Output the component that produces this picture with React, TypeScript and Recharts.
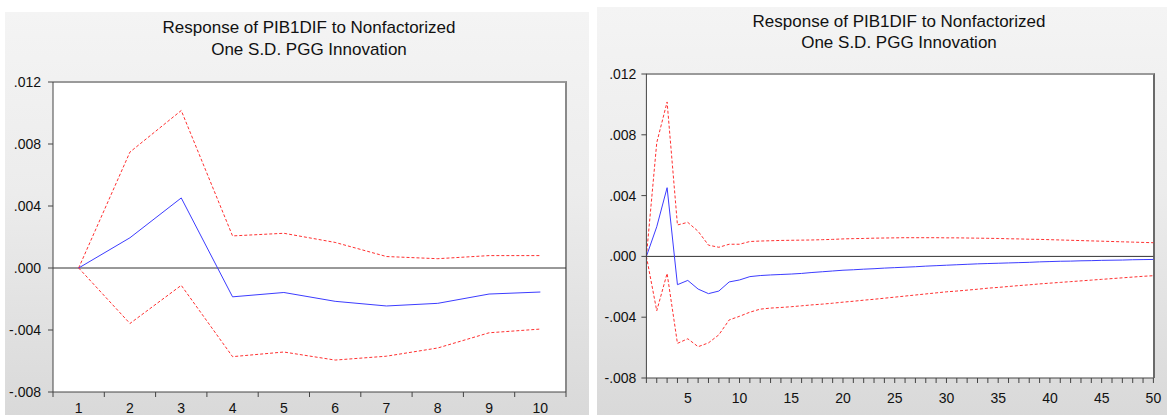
import { LineChart, Line, XAxis, YAxis, ReferenceLine } from 'recharts'

// periods of the impulse response
const PERIODS = Array.from({ length: 50 }, (_, i) => i + 1)

// response of PIB1DIF to a one S.D. PGG shock
const RESPONSE = [
  0, 0.00195, 0.00452, -0.00186, -0.00158, -0.00215, -0.00245, -0.00228, -0.00168, -0.00155,
  -0.00133, -0.00126, -0.00122, -0.00119, -0.00116, -0.00112, -0.00106, -0.00101, -0.00096, -0.00091,
  -0.00088, -0.00084, -0.00081, -0.00077, -0.00074, -0.00071, -0.00068, -0.00064, -0.00061, -0.00058,
  -0.00055, -0.00052, -0.00049, -0.00047, -0.00045, -0.00043, -0.00041, -0.00039, -0.00036, -0.00034,
  -0.00032, -0.00031, -0.00029, -0.00028, -0.00026, -0.00025, -0.00024, -0.00022, -0.00021, -0.0002,
]

// +2 S.E. band
const UPPER_BAND = [
  0, 0.00748, 0.01016, 0.00207, 0.00224, 0.00165, 0.00074, 0.0006, 0.0008, 0.0008,
  0.00098, 0.00101, 0.00103, 0.00105, 0.00106, 0.00107, 0.00108, 0.0011, 0.00112, 0.00115,
  0.00117, 0.00118, 0.0012, 0.00121, 0.00122, 0.00123, 0.00123, 0.00123, 0.00123, 0.00122,
  0.00122, 0.00121, 0.0012, 0.00119, 0.00118, 0.00116, 0.00115, 0.00113, 0.00112, 0.0011,
  0.00108, 0.00106, 0.00104, 0.00102, 0.001, 0.00098, 0.00096, 0.00094, 0.00092, 0.0009,
]

// -2 S.E. band
const LOWER_BAND = [
  0, -0.00358, -0.00112, -0.00572, -0.00542, -0.00594, -0.00569, -0.00516, -0.00418, -0.00394,
  -0.00367, -0.00347, -0.0034, -0.00336, -0.00331, -0.00325, -0.00319, -0.00314, -0.00308, -0.00301,
  -0.00295, -0.00288, -0.00282, -0.00275, -0.00268, -0.00261, -0.00254, -0.00247, -0.0024, -0.00233,
  -0.00228, -0.00222, -0.00216, -0.00209, -0.00204, -0.00198, -0.00192, -0.00187, -0.00181, -0.00176,
  -0.00171, -0.00166, -0.00161, -0.00156, -0.00151, -0.00146, -0.00141, -0.00136, -0.00131, -0.00127,
]

const Y_TICKS = [-0.008, -0.004, 0, 0.004, 0.008, 0.012]
const SHORT_TICKS = [1, 2, 3, 4, 5, 6, 7, 8, 9, 10]
const LONG_LABELS = [5, 10, 15, 20, 25, 30, 35, 40, 45, 50]
const TITLE_LINES = ['Response of PIB1DIF to Nonfactorized', 'One S.D. PGG Innovation']

const FONT = '"Liberation Sans", Arial, sans-serif'
const AXIS = '#444'

const rows = PERIODS.map((p, i) => ({
  period: p,
  response: RESPONSE[i],
  upper: UPPER_BAND[i],
  lower: LOWER_BAND[i],
}))

const fmtY = (v: number) => v.toFixed(3).replace('0.', '.')

const PANEL_BG = 'linear-gradient(to bottom, #f4f4f4 0%, #ececec 45%, #d9d9d9 100%)'

function Series() {
  return [
    <ReferenceLine key="zero" y={0} stroke="#333" strokeWidth={1} ifOverflow="extendDomain" />,
    <Line key="up" type="linear" dataKey="upper" stroke="#ff3030" strokeWidth={1} strokeDasharray="3 2" dot={false} isAnimationActive={false} />,
    <Line key="lo" type="linear" dataKey="lower" stroke="#ff3030" strokeWidth={1} strokeDasharray="3 2" dot={false} isAnimationActive={false} />,
    <Line key="resp" type="linear" dataKey="response" stroke="#3c3cff" strokeWidth={1} dot={false} isAnimationActive={false} />,
  ]
}

function Title({ cx, y1, gap }: { cx: number; y1: number; gap: number }) {
  return (
    <>
      {TITLE_LINES.map((t, i) => (
        <text key={i} x={cx} y={y1 + i * gap} textAnchor="middle" fontSize={17} fill="#111" fontFamily={FONT}>
          {t}
        </text>
      ))}
    </>
  )
}

export default function App() {
  // short horizon: labels at periods, tick marks between them
  const shortTicks = SHORT_TICKS.flatMap((t) => [t - 0.5, t]).concat(SHORT_TICKS[SHORT_TICKS.length - 1] + 0.5)
  const leftBottom = 392
  const rightBottom = 378

  const shortTick = (props: any) => {
    const { x, payload } = props
    const v = payload.value as number
    if (Number.isInteger(v)) {
      return (
        <text x={x} y={413} textAnchor="middle" fontSize={14} fill="#111" fontFamily={FONT}>
          {v}
        </text>
      )
    }
    return <line x1={x} x2={x} y1={leftBottom} y2={leftBottom + 5} stroke={AXIS} />
  }

  const longTick = (props: any) => {
    const { x, payload } = props
    const v = payload.value as number
    return (
      <g>
        <line x1={x} x2={x} y1={rightBottom} y2={rightBottom + 5} stroke={AXIS} />
        {LONG_LABELS.includes(v) && (
          <text x={x} y={403} textAnchor="middle" fontSize={14} fill="#111" fontFamily={FONT}>
            {v}
          </text>
        )}
      </g>
    )
  }

  const yTick = { fontSize: 14, fill: '#111', fontFamily: FONT }

  return (
    <div style={{ position: 'absolute', left: 0, top: 0, width: 1167, height: 415, background: '#fff', overflow: 'hidden', fontFamily: FONT }}>
      {/* panels */}
      <div style={{ position: 'absolute', left: 5, top: 12, width: 584, height: 403, background: PANEL_BG }} />
      <div style={{ position: 'absolute', left: 597, top: 7, width: 570, height: 408, background: PANEL_BG }} />

      {/* plot frames */}
      <div style={{ position: 'absolute', left: 53, top: 81, width: 514, height: 311, background: '#fff', boxSizing: 'border-box', borderTop: '2px solid #9a9a9a', borderRight: '2px solid #8a8a8a' }} />
      <div style={{ position: 'absolute', left: 646, top: 73, width: 509, height: 305, background: '#fff', boxSizing: 'border-box', borderTop: '2px solid #9a9a9a', borderRight: '2px solid #6a6a6a' }} />

      <div style={{ position: 'absolute', left: 0, top: 0 }}>
        <LineChart width={588} height={415} data={rows.slice(0, 10)} margin={{ top: 82, right: 22, bottom: 3, left: 5 }}>
          <XAxis
            dataKey="period"
            type="number"
            domain={[0.5, 10.5]}
            ticks={shortTicks}
            interval={0}
            height={20}
            tickLine={false}
            axisLine={{ stroke: AXIS }}
            tick={shortTick}
          />
          <YAxis
            type="number"
            domain={[-0.008, 0.012]}
            ticks={Y_TICKS}
            interval={0}
            width={48}
            tickSize={5}
            tickMargin={7}
            tickFormatter={fmtY}
            tick={yTick}
            tickLine={{ stroke: AXIS }}
            axisLine={{ stroke: AXIS }}
          />
          {Series()}
        </LineChart>
      </div>

      <div style={{ position: 'absolute', left: 590, top: 0 }}>
        <LineChart width={577} height={415} data={rows} margin={{ top: 74, right: 13.6, bottom: 7, left: 6.4 }}>
          <XAxis
            dataKey="period"
            type="number"
            domain={[1, 50]}
            ticks={PERIODS}
            interval={0}
            height={30}
            tickLine={false}
            axisLine={{ stroke: AXIS }}
            tick={longTick}
          />
          <YAxis
            type="number"
            domain={[-0.008, 0.012]}
            ticks={Y_TICKS}
            interval={0}
            width={50}
            tickSize={5}
            tickMargin={5}
            tickFormatter={fmtY}
            tick={yTick}
            tickLine={{ stroke: AXIS }}
            axisLine={{ stroke: AXIS }}
          />
          {Series()}
        </LineChart>
      </div>

      <svg width={1167} height={415} style={{ position: 'absolute', left: 0, top: 0, pointerEvents: 'none' }}>
        <Title cx={309} y1={33} gap={22} />
        <Title cx={899} y1={27} gap={21} />
      </svg>
    </div>
  )
}
